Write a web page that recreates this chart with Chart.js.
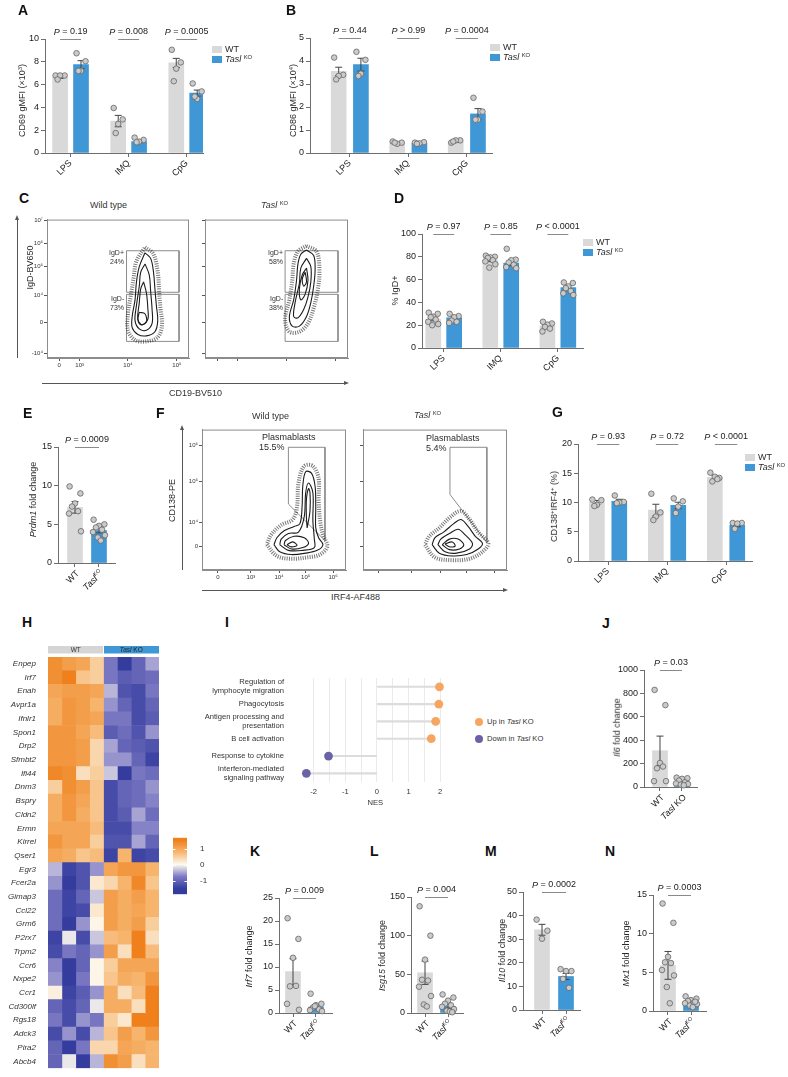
<!DOCTYPE html>
<html>
<head>
<meta charset="utf-8">
<script src="https://cdn.jsdelivr.net/npm/chart.js@4.4.1/dist/chart.umd.min.js"></script>
<style>
html, body { margin: 0; padding: 0; background: #fff; }
#fig { position: relative; width: 788px; height: 1077px; overflow: hidden; font-family: "Liberation Sans", Arial, sans-serif; color: #222; }
#fig canvas { position: absolute; }
.t { position: absolute; white-space: nowrap; line-height: 1; }
.sup { font-size: 0.65em; position: relative; top: -0.45em; }
</style>
</head>
<body>
<div id="fig"></div>
<script>
// ---------- data ----------
const stims = ['LPS', 'IMQ', 'CpG'];

// A: CD69 gMFI (x10^3)
const aWtMean = [6.7, 2.8, 7.9];
const aWtSem = [0.15, 0.5, 0.4];
const aKoMean = [7.75, 1.0, 5.25];
const aKoSem = [0.35, 0.1, 0.27];
const aWtPts = [[6.8, 6.8, 6.8, 6.45], [3.95, 2.95, 2.55, 1.75], [9.05, 7.95, 7.4, 6.3]];
const aKoPts = [[8.75, 8.05, 7.2, 7.2], [1.35, 1.15, 1.0, 0.95], [6.1, 5.4, 4.75, 4.95]];
const aP = ['= 0.19', '= 0.008', '= 0.0005'];

// B: CD86 gMFI (x10^4)
const bWtMean = [3.55, 0.43, 0.5];
const bWtSem = [0.18, 0.02, 0.03];
const bKoMean = [3.84, 0.42, 1.7];
const bKoSem = [0.28, 0.02, 0.23];
const bWtPts = [[4.15, 3.4, 3.35, 3.2], [0.5, 0.45, 0.4, 0.45], [0.45, 0.55, 0.55, 0.5]];
const bKoPts = [[4.4, 4.05, 3.45, 3.35], [0.45, 0.47, 0.42, 0.4], [2.4, 1.8, 1.45, 1.45]];
const bP = ['= 0.44', '> 0.99', '= 0.0004'];

// D: % IgD+
const dWtMean = [25.3, 77, 19.5];
const dWtSem = [1.4, 1.3, 1.1];
const dKoMean = [26.5, 74.5, 53];
const dKoSem = [1.2, 2.3, 1.5];
const dWtPts = [[31, 30, 27.5, 27, 25, 23, 21, 20], [81, 80, 79.5, 79, 77, 76, 73.5, 70.5], [23, 21.5, 20.5, 18.5, 17, 14.5]];
const dKoPts = [[30, 28, 27, 24, 23, 22], [87, 77.5, 77, 75, 73, 71, 70], [57.5, 57, 54, 52.5, 50, 48, 46.5]];
const dP = ['= 0.97', '= 0.85', '< 0.0001'];

// G: CD138+IRF4+ (%)
const gWtMean = [10, 8.7, 14.3];
const gWtSem = [0.35, 1.0, 0.3];
const gKoMean = [10.2, 9.5, 6.1];
const gKoSem = [0.35, 0.55, 0.25];
const gWtPts = [[10.5, 10.4, 9.6, 9.4], [11.5, 8.3, 7.6, 7.0], [15.1, 14.2, 14.4, 13.6, 14.0]];
const gKoPts = [[11.2, 10.1, 10.0, 9.9], [10.7, 10.2, 9.3, 8.2], [6.5, 6.5, 6.4, 5.5]];
const gP = ['= 0.93', '= 0.72', '< 0.0001'];

// E: Prdm1 fold change
const eMean = [7.2, 4.2];
const eSem = [0.75, 0.3];
const eWtPts = [9.9, 9.0, 7.7, 7.3, 6.7, 6.4, 4.1];
const eKoPts = [5.6, 5.0, 4.8, 4.6, 4.3, 4.0, 3.6, 3.3, 2.9];

// J: Il6 fold change
const jMean = [310, 40];
const jSem = [125, 8];
const jWtPts = [830, 700, 205, 160, 175, 50, 50];
const jKoPts = [80, 75, 70, 55, 40, 30, 25, 20, 15];

// K: Irf7 fold change
const kMean = [9.0, 1.3];
const kSem = [2.8, 0.45];
const kWtPts = [20.6, 16.1, 12.0, 5.8, 5.9, 2.0, 0.7];
const kKoPts = [4.2, 2.0, 1.7, 1.2, 0.8, 0.6, 0.4, 1.5];

// L: Isg15 fold change
const lMean = [52, 8.5];
const lSem = [15, 2.5];
const lWtPts = [138, 100, 69, 43, 42, 34, 22, 11, 8.5];
const lKoPts = [24, 20, 16, 12, 10, 8, 5, 3, 2, 1];

// M: Il10 fold change
const mMean = [34, 14.2];
const mSem = [2.3, 1.3];
const mWtPts = [38.3, 33.6, 30.2];
const mKoPts = [17.3, 16.5, 16.5, 13.2, 9.4];

// N: Mx1 fold change
const nMean = [5.9, 1.1];
const nSem = [1.8, 0.15];
const nWtPts = [13.9, 11.4, 7.0, 6.3, 6.2, 5.3, 4.6, 3.1, 1.0];
const nKoPts = [1.9, 1.6, 1.4, 1.3, 1.1, 1.0, 0.9, 0.7, 0.5, 1.2];

// H: heatmap z-scores (cols: WT x4, Tasl KO x4)
const genes = ['Enpep', 'Irf7', 'Enah', 'Avpr1a', 'Ifnlr1', 'Spon1', 'Drp2', 'Sfmbt2', 'Ifi44', 'Dnm3',
  'Bspry', 'Cldn2', 'Ermn', 'Kirrel', 'Qser1', 'Egr3', 'Fcer2a', 'Gimap3', 'Ccl22', 'Grm6',
  'P2rx7', 'Trpm2', 'Ccr6', 'Nxpe2', 'Ccr1', 'Cd300lf', 'Rgs18', 'Adck3', 'Pira2', 'Abcb4'];
const heatZ = [
  [1.3, 1.1, 1.0, 0.5, -0.8, -1.5, -1.0, -0.5],
  [1.3, 1.5, 0.6, 0.5, -0.8, -1.1, -1.0, -0.9],
  [1.0, 1.1, 1.1, 1.0, -0.4, -1.2, -1.3, -0.8],
  [0.9, 1.2, 1.1, 0.8, -0.6, -1.0, -1.3, -1.0],
  [0.9, 1.2, 1.1, 1.0, -0.8, -0.8, -1.3, -1.1],
  [1.2, 1.2, 1.0, 0.7, -1.1, -0.9, -1.2, -0.6],
  [1.2, 1.2, 1.1, 0.4, -0.5, -1.0, -1.1, -1.2],
  [1.2, 1.2, 1.1, 0.4, -0.6, -0.6, -1.0, -1.4],
  [1.4, 1.3, 0.3, 0.5, -0.3, -1.5, -0.8, -0.9],
  [0.5, 1.3, 1.1, 0.6, -1.3, -1.0, -0.9, -0.6],
  [0.9, 1.2, 1.0, 0.6, -1.3, -1.0, -0.9, -0.7],
  [0.9, 1.2, 0.9, 0.6, -1.3, -1.1, -0.5, -0.9],
  [1.0, 1.0, 1.0, 0.7, -1.3, -1.3, -0.7, -0.7],
  [1.2, 1.0, 1.0, 0.5, -1.2, -1.2, -0.5, -1.0],
  [1.0, 0.9, 0.6, 0.7, -1.4, 0.8, -1.4, -1.3],
  [-0.4, -1.4, -1.2, -0.6, 1.0, 1.2, 1.2, 0.8],
  [-0.6, -1.5, -1.2, 0.2, 0.4, 0.8, 1.4, 0.6],
  [-0.9, -1.4, -1.0, -0.3, 1.1, 0.9, 1.1, 0.8],
  [-0.9, -1.4, -1.3, 0.2, 1.1, 0.9, 1.0, 0.8],
  [-0.9, -1.5, -0.6, 0.05, 1.1, 0.9, 1.1, 0.5],
  [-1.4, -0.1, -1.3, -0.3, 0.7, 0.8, 1.5, 0.3],
  [-1.3, -0.8, -1.0, -0.6, 1.1, 0.3, 1.6, 0.7],
  [-0.7, -1.5, -1.0, 0.05, 0.5, 1.0, 1.0, 1.0],
  [-0.6, -1.5, -0.8, 0.05, 0.6, 0.9, 0.8, 1.2],
  [0.1, -1.4, -1.1, -0.6, 0.9, 0.3, 0.7, 1.5],
  [-1.0, -1.3, -1.0, -0.1, 0.9, 0.9, 0.3, 1.5],
  [-0.8, -1.3, -0.6, -0.8, 0.5, 0.2, 1.5, 1.5],
  [-1.3, -0.6, -1.3, -0.4, 0.6, 1.1, 0.8, 1.2],
  [-1.0, -1.5, -0.8, 0.4, 0.4, 1.0, 0.9, 0.8],
  [-1.0, -0.1, -1.5, -0.4, 1.3, 1.1, 0.3, 0.8]
];

// I: GSEA NES
const nesTerms = [['Regulation of', 'lymphocyte migration'], 'Phagocytosis', ['Antigen processing and', 'presentation'],
  'B cell activation', 'Response to cytokine', ['Interferon-mediated', 'signaling pathway']];
const nesVals = [1.98, 1.96, 1.86, 1.72, -1.53, -2.23];
const nesTicks = [-2, -1.5, -1, -0.5, 0, 0.5, 1, 1.5, 2];

// C / F: flow plots, display units 0-100 on both axes
const cXTicks = [8.5, 23, 57, 91.5];
const cXLabels = ['0', '10³', '10⁴', '10⁵'];
const cYTicks = [3.5, 26, 45.5, 66, 83, 99.3];
const cYLabels = ['-10⁴', '0', '10⁴', '10⁵', '10⁶', '10⁷'];
const cGatePos = [[56, 77.5], [93, 77.5], [93, 47.5], [56, 47.5], [56, 77.5]];
const cGateNeg = [[56, 46], [93, 46], [93, 12], [56, 12], [56, 46]];
const cWtHalo = [[69, 80], [75, 75], [78, 62], [79, 48], [80, 35], [81, 24], [78, 15], [70, 12], [62, 13], [57, 20], [57, 32], [59, 45], [61, 58], [63, 70], [69, 80]];
const cWtOuter = [[69, 76], [73, 72], [75, 62], [76, 50], [77, 38], [78, 27], [76, 19], [70, 16], [64, 17], [60, 22], [60, 30], [62, 42], [63, 55], [65, 66], [69, 76]];
const cWtMid = [[69, 68], [72, 60], [73, 48], [74, 35], [74, 25], [70, 20], [65, 21], [62, 27], [63, 38], [65, 52], [66, 62], [69, 68]];
const cWtInner = [[68, 55], [70, 47], [71, 36], [71, 28], [67, 24], [64, 28], [65, 40], [66, 50], [68, 55]];
const cWtCore = [[65, 33], [69, 32], [70, 26], [66, 24], [64, 28], [65, 33]];
const cKoHalo = [[71, 81], [78, 77], [80, 64], [79, 50], [76, 36], [72, 25], [66, 19], [59, 19], [56, 28], [59, 42], [61, 56], [62, 68], [65, 77], [71, 81]];
const cKoOuter = [[71, 78], [76, 74], [77, 64], [76, 52], [74, 40], [71, 30], [66, 23], [61, 23], [59, 30], [62, 42], [64, 56], [65, 68], [67, 75], [71, 78]];
const cKoMid = [[71, 72], [74, 66], [74, 55], [72, 44], [69, 35], [65, 29], [62, 30], [63, 40], [66, 54], [67, 65], [71, 72]];
const cKoInner = [[71, 65], [72, 56], [70, 46], [67, 42], [66, 50], [68, 60], [71, 65]];
const cKoCore = [[70, 62], [71, 55], [69, 52], [68, 57], [70, 62]];

const fXTicks = [11, 34, 53.5, 72, 91];
const fXLabels = ['0', '10³', '10⁴', '10⁵', '10⁶'];
const fYTicks = [17, 34, 63, 89];
const fYLabels = ['0', '10⁴', '10⁵', '10⁶'];
const fWtGate = [[60, 87.4], [85.4, 87.4], [85.4, 21], [60, 47], [60, 87.4]];
const fKoGate = [[60.4, 87.4], [86, 87.4], [86, 19.6], [60.4, 53.8], [60.4, 87.4]];
const fWtHalo = [[45, 18], [52, 10], [62, 8], [73, 9], [82, 11], [87, 17], [84, 25], [82, 35], [81, 50], [81, 65], [77, 74], [71, 74], [67, 62], [66, 45], [63, 36], [55, 32], [48, 25], [45, 18]];
const fWtOuter = [[50, 18], [54, 13], [62, 11], [72, 12], [80, 14], [84, 18], [81, 23], [79, 30], [79, 45], [78.5, 60], [76, 69], [72, 70], [70, 60], [69.5, 45], [68, 33], [64, 31], [57, 28], [52, 23], [50, 18]];
const fWtMid = [[54, 18], [60, 14], [70, 14], [78, 16], [78, 22], [77, 35], [77, 55], [74, 62], [72, 55], [71, 38], [67, 27], [60, 26], [55, 22], [54, 18]];
const fWtInner = [[57, 18], [62, 15], [70, 16], [74, 19], [71, 23], [64, 24], [58, 21], [57, 18]];
const fWtFinger = [[73, 30], [75, 42], [75, 55], [74, 58], [72.5, 50], [72.5, 38], [73, 30]];
const fWtCore = [[59, 18], [62, 16.5], [66, 17.5], [63, 20], [59, 18]];
const fKoHalo = [[43, 18], [50, 9], [62, 7], [74, 8], [83, 13], [87, 19], [80, 27], [74, 36], [68, 42], [61, 38], [53, 30], [46, 24], [43, 18]];
const fKoOuter = [[48, 18], [53, 12], [62, 10], [72, 11], [80, 15], [83, 19], [78, 24], [73, 31], [68, 36], [63, 33], [56, 27], [50, 23], [48, 18]];
const fKoMid = [[52, 18], [57, 13], [65, 12], [74, 15], [76, 19], [71, 25], [66, 29], [60, 26], [54, 22], [52, 18]];
const fKoInner = [[55, 18], [60, 14.5], [67, 15], [70, 18], [66, 22], [60, 22], [55, 18]];
const fKoCore = [[57, 18.5], [60, 16.5], [64, 17], [62, 20], [57, 18.5]];

// ---------- styling / helpers ----------
const WT_COL = '#d9d9d9', KO_COL = '#3f97d5', DOT_FILL = '#cacaca', DOT_LINE = '#666', AXIS = '#6e6e6e';
const FAM = '"Liberation Sans", Arial, sans-serif';
const JIT = [-0.9, 0.9, 0, -0.5, 0.5, -1, 1, -0.2, 0.3, 0.7, -0.7];

Chart.defaults.font.family = FAM;
Chart.defaults.font.size = 9;
Chart.defaults.color = '#222';
Chart.defaults.animation = false;
Chart.defaults.responsive = false;
Chart.defaults.plugins.legend.display = false;
Chart.defaults.plugins.tooltip.enabled = false;

const fig = document.getElementById('fig');

function makeCanvas(left, top, w, h) {
  const c = document.createElement('canvas');
  c.width = Math.round(w); c.height = Math.round(h);
  c.style.left = left + 'px'; c.style.top = top + 'px';
  c.style.width = Math.round(w) + 'px'; c.style.height = Math.round(h) + 'px';
  fig.appendChild(c);
  return c;
}

function label(html, x, y, o = {}) {
  const d = document.createElement('div');
  d.className = 't';
  d.innerHTML = html;
  d.style.fontSize = (o.size || 9) + 'px';
  if (o.bold) d.style.fontWeight = 'bold';
  d.style.color = o.color || '#2a2a2a';
  fig.appendChild(d);
  const w = d.offsetWidth, h = d.offsetHeight;
  if (o.rot) {
    // keep the rotated box on whole pixels so the text stays crisp
    const cx = Math.round(x - h / 2) + h / 2, cy = Math.round(y - w / 2) + w / 2;
    d.style.left = (cx - w / 2) + 'px';
    d.style.top = (cy - h / 2) + 'px';
    d.style.transform = 'rotate(' + o.rot + 'deg)';
  } else {
    const lx = o.align === 'left' ? x : o.align === 'right' ? x - w : x - w / 2;
    d.style.left = Math.round(lx) + 'px';
    d.style.top = Math.round(y - h / 2) + 'px';
  }
}

function rect(x, y, w, h, col, extra) {
  const d = document.createElement('div');
  d.style.cssText = 'position:absolute;left:' + x + 'px;top:' + y + 'px;width:' + w + 'px;height:' + h + 'px;background:' + col + ';' + (extra || '');
  fig.appendChild(d);
}

function drawRich(ctx, parts, x, y, align, size, color) {
  ctx.save();
  ctx.fillStyle = color || '#222';
  ctx.textBaseline = 'middle';
  ctx.textAlign = 'left';
  const fnt = p => (p.i ? 'italic ' : '') + (p.sup ? size * 0.62 : size) + 'px ' + FAM;
  const widths = parts.map(p => { ctx.font = fnt(p); return ctx.measureText(p.t).width; });
  const total = widths.reduce((a, b) => a + b, 0);
  let cx = align === 'center' ? x - total / 2 : align === 'right' ? x - total : x;
  parts.forEach((p, k) => {
    ctx.font = fnt(p);
    ctx.fillText(p.t, cx, p.sup ? y - size * 0.35 : y);
    cx += widths[k];
  });
  ctx.restore();
}

const errorBars = {
  id: 'errorBars',
  afterDatasetDraw(chart, args) {
    const ds = chart.data.datasets[args.index];
    if (!ds.sem) return;
    const ctx = chart.ctx, ys = chart.scales.y;
    ctx.save();
    ctx.strokeStyle = '#444';
    ctx.lineWidth = 1;
    args.meta.data.forEach((bar, k) => {
      const m = ds.data[k].y, s = ds.sem[k];
      const top = ys.getPixelForValue(m + s), bot = ys.getPixelForValue(Math.max(0, m - s));
      ctx.beginPath();
      ctx.moveTo(bar.x, top); ctx.lineTo(bar.x, bot);
      ctx.moveTo(bar.x - 3.5, top); ctx.lineTo(bar.x + 3.5, top);
      ctx.moveTo(bar.x - 3.5, bot); ctx.lineTo(bar.x + 3.5, bot);
      ctx.stroke();
    });
    ctx.restore();
  }
};

function pLabels(items) {
  return {
    id: 'pLabels',
    afterDraw(chart) {
      const ctx = chart.ctx, xs = chart.scales.x, top = chart.chartArea.top;
      items.forEach(it => {
        const a = xs.getPixelForValue(it.a), b = xs.getPixelForValue(it.b);
        ctx.save();
        ctx.strokeStyle = '#8a8a8a';
        ctx.lineWidth = 1;
        ctx.beginPath();
        ctx.moveTo(a, top + 0.5); ctx.lineTo(b, top + 0.5);
        ctx.stroke();
        ctx.restore();
        drawRich(ctx, [{t: 'P', i: true}, {t: ' ' + it.t}], (a + b) / 2, top - 7, 'center', 9);
      });
    }
  };
}

function richTicks(items) {
  return {
    id: 'richTicks',
    afterDraw(chart) {
      const ctx = chart.ctx, xs = chart.scales.x, bot = chart.chartArea.bottom;
      items.forEach(it => {
        ctx.save();
        ctx.translate(xs.getPixelForValue(it.x) + 3, bot + 9);
        ctx.rotate(-Math.PI / 4);
        drawRich(ctx, it.parts, 0, 0, 'right', 9);
        ctx.restore();
      });
    }
  };
}

// bar + dot panel; box = plot area in page pixels [left, top, right, bottom]
function barPanel(o) {
  const [x0, y0, x1, y1] = o.box;
  const L = 34, T = 30, R = 8, B = o.B;
  const cv = makeCanvas(x0 - L, y0 - T, x1 - x0 + L + R, y1 - y0 + T + B);
  const ppu = (x1 - x0) / (o.xr[1] - o.xr[0]);
  const bars = o.series.map(s => ({
    type: 'bar', order: 3, grouped: false, barThickness: o.bw, backgroundColor: s.color, borderWidth: 0,
    data: s.pos.map((p, i) => ({x: p, y: s.mean[i]})), sem: s.sem
  }));
  const dots = o.series.map(s => ({
    type: 'scatter', order: 1, clip: false, pointRadius: o.r, pointBackgroundColor: DOT_FILL,
    pointBorderColor: DOT_LINE, pointBorderWidth: 0.8,
    data: s.pos.flatMap((p, i) => s.pts[i].map((v, k) => ({x: p + JIT[k % JIT.length] * o.amp / ppu, y: v})))
  }));
  new Chart(cv, {
    type: 'bar',
    data: {datasets: bars.concat(dots)},
    options: {
      layout: {padding: {top: T, right: R, left: 0, bottom: 0}},
      scales: {
        x: {
          type: 'linear', min: o.xr[0], max: o.xr[1], offset: false,
          grid: {offset: false, drawOnChartArea: false, color: AXIS, tickLength: 4},
          border: {color: AXIS, width: 1},
          afterBuildTicks: s => { s.ticks = o.xticks.map(v => ({value: v})); },
          afterFit: s => { s.height = B; },
          ticks: {display: !!o.xlabels, autoSkip: false, minRotation: 45, maxRotation: 45, padding: 1,
            font: {size: 9}, color: '#222', callback: (v, i) => o.xlabels ? o.xlabels[i] : ''}
        },
        y: {
          min: 0, max: o.ymax,
          grid: {drawOnChartArea: false, color: AXIS, tickLength: 4},
          border: {color: AXIS, width: 1},
          afterFit: s => { s.width = L; },
          ticks: {stepSize: o.step, autoSkip: false, padding: 2, font: {size: 9}, color: '#222', callback: v => String(v)}
        }
      }
    },
    plugins: [errorBars, pLabels(o.pv), richTicks(o.rich || [])]
  });
}

function grouped(box, xr, off, ymax, step, wtMean, wtSem, wtPts, koMean, koSem, koPts, pv) {
  const idx = [0, 1, 2];
  barPanel({
    box, xr, ymax, step, bw: 15, r: 2.8, amp: 5, B: 34,
    xticks: idx, xlabels: stims,
    series: [
      {pos: idx.map(i => i - off), mean: wtMean, sem: wtSem, pts: wtPts, color: WT_COL},
      {pos: idx.map(i => i + off), mean: koMean, sem: koSem, pts: koPts, color: KO_COL}
    ],
    pv: idx.map(i => ({a: i - off, b: i + off, t: pv[i]}))
  });
}

function pair(box, xr, ymax, step, mean, sem, wtPts, koPts, p, koParts) {
  barPanel({
    box, xr, ymax, step, bw: 15, r: 2.8, amp: 6, B: 48,
    xticks: [0, 1], xlabels: null,
    series: [
      {pos: [0], mean: [mean[0]], sem: [sem[0]], pts: [wtPts], color: WT_COL},
      {pos: [1], mean: [mean[1]], sem: [sem[1]], pts: [koPts], color: KO_COL}
    ],
    pv: [{a: 0, b: 1, t: p}],
    rich: [{x: 0, parts: [{t: 'WT'}]}, {x: 1, parts: koParts}]
  });
}

function grpLegend(x, y) {
  rect(x, y - 3.5, 10, 7, WT_COL);
  rect(x, y + 6.5, 10, 7, KO_COL);
  label('WT', x + 13, y, {align: 'left', size: 9});
  label('<i>Tasl</i> <span class="sup">KO</span>', x + 13, y + 10, {align: 'left', size: 9});
}

// ---------- A, B, D, G ----------
grouped([45, 39, 203, 153], [-0.44, 2.28], 0.18, 10, 2, aWtMean, aWtSem, aWtPts, aKoMean, aKoSem, aKoPts, aP);
grouped([310, 38, 492, 153], [-0.68, 2.43], 0.19, 5, 1, bWtMean, bWtSem, bWtPts, bKoMean, bKoSem, bKoPts, bP);
grouped([422, 234, 583, 348], [-0.38, 2.44], 0.183, 100, 20, dWtMean, dWtSem, dWtPts, dKoMean, dKoSem, dKoPts, dP);
grouped([578, 444, 752, 561], [-0.51, 2.44], 0.19, 20, 5, gWtMean, gWtSem, gWtPts, gKoMean, gKoSem, gKoPts, gP);
grpLegend(212, 49);
grpLegend(490, 47);
grpLegend(583, 242);
grpLegend(745, 457);

// ---------- E, J, K, L, M, N ----------
const koSup = [{t: 'Tasl', i: true}, {t: 'KO', sup: true}];
const koPlain = [{t: 'Tasl', i: true}, {t: ' KO'}];
pair([58, 447, 115, 563], [-0.708, 1.667], 15, 5, eMean, eSem, eWtPts, eKoPts, '= 0.0009', koSup);
pair([644, 670, 697, 787], [-0.727, 1.682], 1000, 200, jMean, jSem, jWtPts, jKoPts, '= 0.03', koPlain);
pair([279, 898, 332, 1013], [-0.609, 1.696], 25, 5, kMean, kSem, kWtPts, kKoPts, '= 0.009', koSup);
pair([411, 897, 463, 1013], [-0.609, 1.652], 150, 50, lMean, lSem, lWtPts, lKoPts, '= 0.004', koSup);
pair([523, 892, 580, 1010], [-0.792, 1.583], 50, 10, mMean, mSem, mWtPts, mKoPts, '= 0.0002', koSup);
pair([653, 895, 706, 1011], [-0.652, 1.652], 15, 5, nMean, nSem, nWtPts, nKoPts, '= 0.0003', koSup);

// ---------- flow plots (C, F) ----------
const frame = {
  id: 'frame',
  afterDraw(chart) {
    const a = chart.chartArea, ctx = chart.ctx;
    ctx.save();
    ctx.strokeStyle = '#8c8c8c';
    ctx.lineWidth = 1;
    ctx.strokeRect(a.left + 0.5, a.top + 0.5, a.right - a.left - 1, a.bottom - a.top - 1);
    ctx.restore();
  }
};

function flowPanel(o) {
  const [x0, y0, x1, y1] = o.box;
  const L = o.yl ? 22 : 5, B = o.xl ? 12 : 5, T = 2, R = 2;
  const cv = makeCanvas(x0 - L, y0 - T, x1 - x0 + L + R, y1 - y0 + T + B);
  const line = (pts, col, w, dash, tension) => ({
    type: 'scatter', showLine: true, data: pts.map(p => ({x: p[0], y: p[1]})),
    borderColor: col, borderWidth: w, borderDash: dash || [], pointRadius: 0, tension: tension, fill: false
  });
  const ds = [line(o.halo, 'rgba(30,30,30,0.6)', 4, [1, 1.3], 0.35)];
  o.contours.forEach(c => ds.push(line(c, '#1c1c1c', 1.1, null, 0.35)));
  o.gates.forEach(g => ds.push(line(g, '#8c8c8c', 1, null, 0)));
  const axis = (ticks, labels, isX) => ({
    min: 0, max: 100,
    grid: {drawOnChartArea: false, tickLength: 3, color: '#555'},
    border: {color: '#8c8c8c'},
    afterBuildTicks: s => { s.ticks = ticks.map(v => ({value: v})); },
    afterFit: s => { if (isX) s.height = B; else s.width = L; },
    ticks: {autoSkip: false, maxRotation: 0, font: {size: 6}, padding: 1, color: '#333',
      callback: (v, i) => labels ? labels[i] : ''}
  });
  new Chart(cv, {
    type: 'scatter',
    data: {datasets: ds},
    options: {
      layout: {padding: {top: T, right: R, left: 0, bottom: 0}},
      scales: {x: axis(o.xt, o.xl, true), y: axis(o.yt, o.yl, false)}
    },
    plugins: [frame]
  });
}

flowPanel({box: [47, 217, 189, 358], xt: cXTicks, xl: cXLabels, yt: cYTicks, yl: cYLabels,
  halo: cWtHalo, contours: [cWtOuter, cWtMid, cWtInner, cWtCore], gates: [cGatePos, cGateNeg]});
flowPanel({box: [205, 217, 348, 358], xt: cXTicks, xl: null, yt: cYTicks, yl: null,
  halo: cKoHalo, contours: [cKoOuter, cKoMid, cKoInner, cKoCore], gates: [cGatePos, cGateNeg]});
flowPanel({box: [202, 427, 346, 570], xt: fXTicks, xl: fXLabels, yt: fYTicks, yl: fYLabels,
  halo: fWtHalo, contours: [fWtOuter, fWtMid, fWtInner, fWtFinger, fWtCore], gates: [fWtGate]});
flowPanel({box: [363, 427, 507, 570], xt: fXTicks, xl: null, yt: fYTicks, yl: null,
  halo: fKoHalo, contours: [fKoOuter, fKoMid, fKoInner, fKoCore], gates: [fKoGate]});

// axis arrows for the flow plots
function arrowUp(x, yTop, yBot) {
  rect(x - 0.5, yTop, 1, yBot - yTop, '#555');
  rect(x - 2.5, yTop - 4, 0, 0, 'transparent', 'border-left:2.5px solid transparent;border-right:2.5px solid transparent;border-bottom:5px solid #555;');
}
function arrowRight(x0, x1, y) {
  rect(x0, y - 0.5, x1 - x0, 1, '#555');
  rect(x1, y - 2.5, 0, 0, 'transparent', 'border-top:2.5px solid transparent;border-bottom:2.5px solid transparent;border-left:5px solid #555;');
}
arrowUp(17, 219, 358);
arrowRight(42, 344, 383);
arrowUp(182, 429, 570);
arrowRight(202, 503, 590);

// ---------- H: heatmap ----------
const zStops = [[-1.5, [52, 60, 158]], [-0.75, [125, 121, 196]], [0, [252, 249, 240]], [0.75, [247, 184, 115]], [1.5, [239, 128, 28]]];
function zColor(z) {
  if (z <= zStops[0][0]) return 'rgb(' + zStops[0][1].join(',') + ')';
  for (let k = 1; k < zStops.length; k++) {
    if (z <= zStops[k][0]) {
      const [za, ca] = zStops[k - 1], [zb, cb] = zStops[k];
      const t = (z - za) / (zb - za);
      return 'rgb(' + ca.map((c, j) => Math.round(c + (cb[j] - c) * t)).join(',') + ')';
    }
  }
  return 'rgb(' + zStops[zStops.length - 1][1].join(',') + ')';
}

const heatHead = {
  id: 'heatHead',
  afterDraw(chart) {
    const ctx = chart.ctx, xs = chart.scales.x, top = chart.chartArea.top;
    const a = xs.getPixelForValue(0), m = xs.getPixelForValue(4), b = xs.getPixelForValue(8);
    ctx.fillStyle = '#d5d5d5';
    ctx.fillRect(a, top - 11, m - a - 0.5, 7.5);
    ctx.fillStyle = KO_COL;
    ctx.fillRect(m + 0.5, top - 11, b - m - 0.5, 7.5);
    drawRich(ctx, [{t: 'WT'}], (a + m) / 2, top - 7.1, 'center', 6.5, '#333');
    drawRich(ctx, [{t: 'Tasl', i: true}, {t: ' KO'}], (m + b) / 2, top - 7.1, 'center', 6.5, '#222');
  }
};

const heatCols = [0, 1, 2, 3, 4, 5, 6, 7];
new Chart(makeCanvas(0, 643, 162, 434), {
  type: 'bar',
  data: {
    labels: genes,
    datasets: heatCols.map(c => ({
      data: genes.map(() => 1),
      backgroundColor: heatZ.map(r => zColor(r[c])),
      borderWidth: 0, barPercentage: 1, categoryPercentage: 1
    }))
  },
  options: {
    indexAxis: 'y',
    layout: {padding: {top: 14, right: 3, left: 0, bottom: 2}},
    scales: {
      x: {stacked: true, min: 0, max: 8, display: false},
      y: {stacked: true, grid: {display: false}, border: {display: false},
        afterFit: s => { s.width = 48; },
        ticks: {autoSkip: false, padding: 4, color: '#333', font: {size: 8, style: 'italic'}}}
    }
  },
  plugins: [heatHead]
});

// colour bar
const cbar = {
  id: 'cbar',
  beforeDatasetsDraw(chart) {
    const a = chart.chartArea, ctx = chart.ctx, ys = chart.scales.y;
    const g = ctx.createLinearGradient(0, a.bottom, 0, a.top);
    const lo = ys.min, hi = ys.max;
    g.addColorStop(0, zColor(lo));
    zStops.forEach(s => { const t = (s[0] - lo) / (hi - lo); if (t > 0 && t < 1) g.addColorStop(t, zColor(s[0])); });
    g.addColorStop(1, zColor(hi));
    ctx.save();
    ctx.fillStyle = g;
    ctx.fillRect(a.left, a.top, a.right - a.left, a.bottom - a.top);
    ctx.strokeStyle = '#fff';
    ctx.lineWidth = 1;
    [-1, 0, 1].forEach(v => {
      const y = Math.round(ys.getPixelForValue(v)) + 0.5;
      ctx.beginPath();
      ctx.moveTo(a.left, y); ctx.lineTo(a.left + 2.5, y);
      ctx.moveTo(a.right - 2.5, y); ctx.lineTo(a.right, y);
      ctx.stroke();
    });
    ctx.restore();
  }
};
new Chart(makeCanvas(173, 828, 39, 76), {
  type: 'scatter',
  data: {datasets: []},
  options: {
    layout: {padding: {top: 4, bottom: 4, left: 0, right: 0}},
    scales: {
      x: {min: 0, max: 1, display: false},
      y: {position: 'right', min: -1.85, max: 1.67, grid: {display: false}, border: {display: false},
        afterBuildTicks: s => { s.ticks = [-1, 0, 1].map(v => ({value: v})); },
        afterFit: s => { s.width = 25; },
        ticks: {padding: 5, color: '#333', font: {size: 8}, callback: v => String(v)}}
    }
  },
  plugins: [cbar]
});

// ---------- I: NES lollipop ----------
new Chart(makeCanvas(196, 660, 258, 147), {
  type: 'bar',
  data: {
    labels: nesTerms,
    datasets: [
      {type: 'line', data: nesVals, showLine: false, clip: false, order: 0, pointRadius: 4.4, pointBorderWidth: 0,
        pointBackgroundColor: nesVals.map(v => v > 0 ? '#f6a660' : '#6a62a6')},
      {data: nesVals, backgroundColor: '#dcdcdc', barThickness: 1.5, order: 2}
    ]
  },
  options: {
    indexAxis: 'y',
    layout: {padding: {top: 9, right: 3, left: 0, bottom: 0}},
    scales: {
      x: {type: 'linear', min: -2.4, max: 2.3,
        grid: {color: '#e4e4e4', lineWidth: 0.8, drawTicks: false}, border: {display: false},
        afterBuildTicks: s => { s.ticks = nesTicks.map(v => ({value: v})); },
        afterFit: s => { s.height = 25; },
        ticks: {autoSkip: false, maxRotation: 0, padding: 5, color: '#333', font: {size: 7.6},
          callback: v => Number.isInteger(v) ? String(v) : ''},
        title: {display: true, text: 'NES', color: '#333', font: {size: 7.6}, padding: {top: 1, bottom: 0}}},
      y: {type: 'category', grid: {display: false}, border: {display: false},
        afterFit: s => { s.width = 105; },
        ticks: {autoSkip: false, padding: 9, color: '#333', font: {size: 7.6}}}
    }
  }
});

// legend for I
rect(474.6, 717.6, 8.8, 8.8, '#f6a660', 'border-radius:50%;');
rect(474.6, 734.6, 8.8, 8.8, '#6a62a6', 'border-radius:50%;');
label('Up in <i>Tasl</i> KO', 487, 722, {align: 'left', size: 7.6, color: '#333'});
label('Down in <i>Tasl</i> KO', 487, 739, {align: 'left', size: 7.6, color: '#333'});

// ---------- text: panel letters, titles, axis titles ----------
[['A', 23, 10], ['B', 291, 10], ['C', 24, 198], ['D', 399, 198], ['E', 27, 413], ['F', 160, 413],
 ['G', 557, 412], ['H', 27, 622], ['I', 227, 622], ['J', 606, 623], ['K', 255, 851], ['L', 374, 851],
 ['M', 491, 851], ['N', 610, 851]].forEach(p => label(p[0], p[1], p[2], {size: 14, bold: true, color: '#111'}));

label('CD69 gMFI (×10<span class="sup">3</span>)', 22, 100, {rot: -90});
label('CD86 gMFI (×10<span class="sup">4</span>)', 293, 100, {rot: -90});
label('IgD-BV650', 29, 267, {rot: -90});
label('% IgD+', 395, 290, {rot: -90});
label('<i>Prdm1</i> fold change', 33, 499, {rot: -90});
label('CD138-PE', 172, 500, {rot: -90});
label('CD138<span class="sup">+</span>IRF4<span class="sup">+</span> (%)', 554, 506, {rot: -90});
label('<i>Il6</i> fold change', 617, 727, {rot: -90});
label('<i>Irf7</i> fold change', 248, 956, {rot: -90});
label('<i>Isg15</i> fold change', 382, 955, {rot: -90});
label('<i>Il10</i> fold change', 502, 950, {rot: -90});
label('<i>Mx1</i> fold change', 625, 953, {rot: -90});

label('Wild type', 108, 205, {color: '#333'});
label('<i>Tasl</i> <span class="sup">KO</span>', 274, 205, {color: '#333'});
label('CD19-BV510', 195, 393, {color: '#333'});
label('Wild type', 270, 416, {color: '#333'});
label('<i>Tasl</i> <span class="sup">KO</span>', 427, 415, {color: '#333'});
label('IRF4-AF488', 355, 597, {color: '#333'});

// gate labels
label('IgD+', 124, 252, {align: 'right', size: 7, color: '#333'});
label('24%', 124, 261, {align: 'right', size: 7, color: '#333'});
label('IgD-', 124, 298, {align: 'right', size: 7, color: '#333'});
label('73%', 124, 307, {align: 'right', size: 7, color: '#333'});
label('IgD+', 283, 252, {align: 'right', size: 7, color: '#333'});
label('58%', 283, 261, {align: 'right', size: 7, color: '#333'});
label('IgD-', 283, 298, {align: 'right', size: 7, color: '#333'});
label('38%', 283, 307, {align: 'right', size: 7, color: '#333'});
label('Plasmablasts', 262, 437, {align: 'left', size: 9});
label('15.5%', 259, 447, {align: 'left', size: 9});
label('Plasmablasts', 426, 438, {align: 'left', size: 9});
label('5.4%', 426, 448, {align: 'left', size: 9});
</script>
</body>
</html>
